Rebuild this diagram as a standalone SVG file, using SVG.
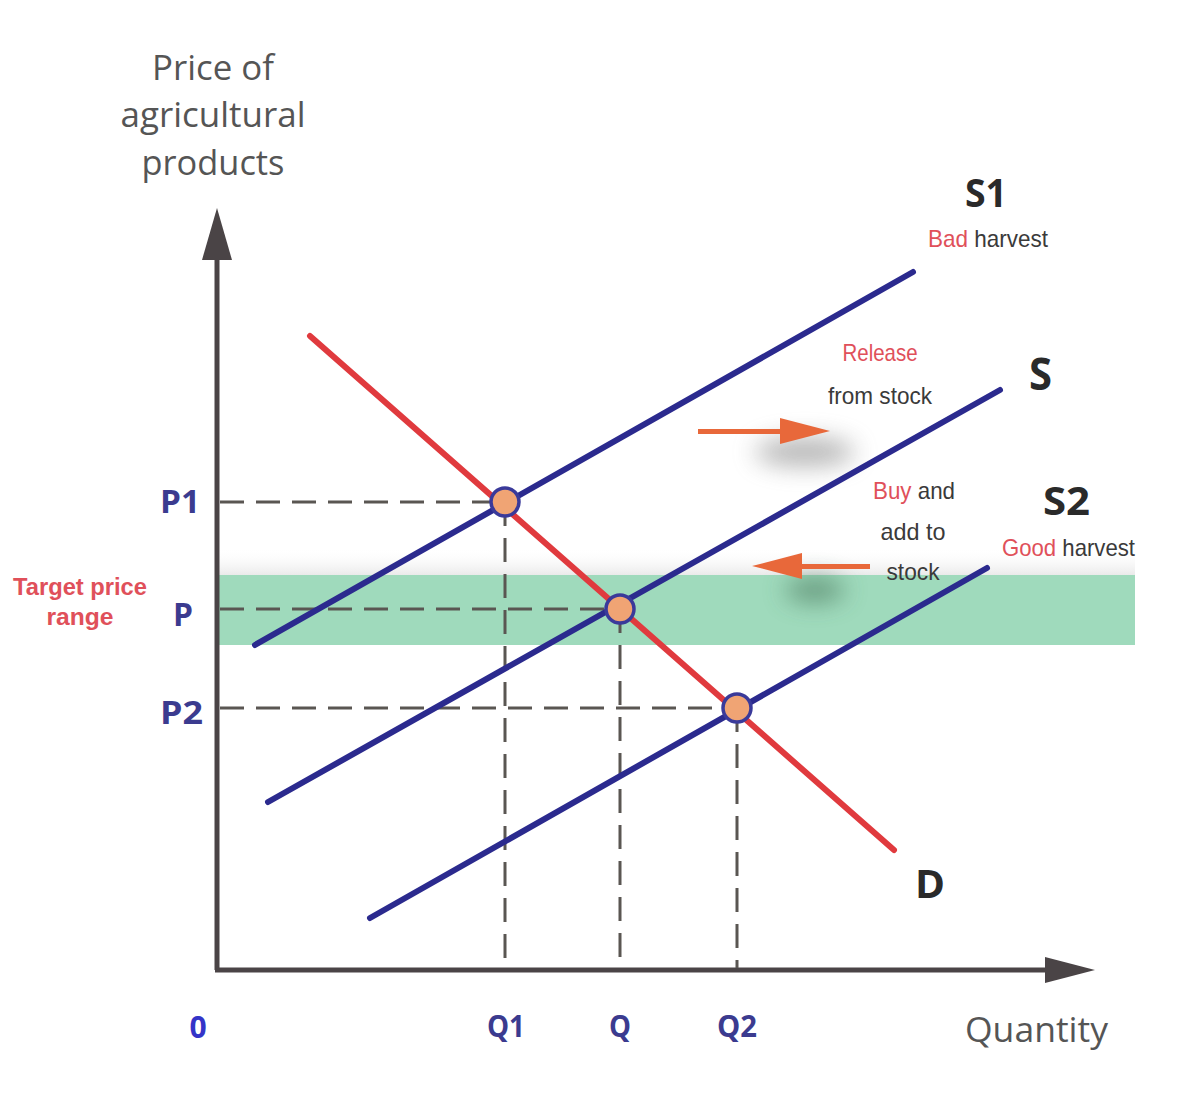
<svg xmlns="http://www.w3.org/2000/svg" width="1179" height="1116" viewBox="0 0 1179 1116">
<defs>
<style>
.axis{stroke:#4a4446;stroke-width:5;fill:none}
.dash{stroke:#5a5652;stroke-width:3;stroke-dasharray:24 12;fill:none}
.sup{stroke:#2b2a8e;stroke-width:6;stroke-linecap:round;fill:none}
.dem{stroke:#e03a3e;stroke-width:6;stroke-linecap:round;fill:none}
.pt{fill:#f0a474;stroke:#3a3a9a;stroke-width:3.5}
.lbl{font-family:"Open Sans","Liberation Sans",sans-serif;font-weight:bold;fill:#2a2a2a}
.ax{font-family:"Open Sans","Liberation Sans",sans-serif;font-weight:bold;fill:#3b3b8f}
.title{font-family:"Open Sans","Liberation Sans",sans-serif;fill:#555;font-size:34px}
.small{font-family:"Liberation Sans",sans-serif;font-size:24px;fill:#3a3a3a}
.red{fill:#e0505a}
.arr{fill:#e8683a}
</style>
<filter id="blur" filterUnits="userSpaceOnUse" x="600" y="350" width="400" height="350"><feGaussianBlur stdDeviation="12"/></filter>
<linearGradient id="fade" x1="0" y1="0" x2="0" y2="1">
<stop offset="0" stop-color="#ffffff" stop-opacity="0"/>
<stop offset="1" stop-color="#dcdcdc" stop-opacity="0.6"/>
</linearGradient>
</defs>
<rect width="1179" height="1116" fill="#ffffff"/>

<g id="band">
<rect x="217" y="548" width="918" height="27" fill="url(#fade)"/>
<rect x="217" y="575" width="918" height="70" fill="#9fdabc"/>
</g>

<g id="shadows">
<ellipse cx="805" cy="452" rx="50" ry="14" fill="#777" opacity="0.55" filter="url(#blur)"/>
<ellipse cx="815" cy="590" rx="30" ry="12" fill="#3e6a50" opacity="0.6" filter="url(#blur)"/>
</g>

<g id="axes">
<line class="axis" x1="217" y1="250" x2="217" y2="970"/>
<polygon points="217,208 202,260 232,260" fill="#4a4446"/>
<line class="axis" x1="215" y1="970" x2="1050" y2="970"/>
<polygon points="1095,970 1045,957 1045,983" fill="#4a4446"/>
</g>

<g id="connectors">
<line class="dash" x1="220" y1="502" x2="505" y2="502"/>
<line class="dash" x1="220" y1="609" x2="620" y2="609"/>
<line class="dash" x1="220" y1="708" x2="737" y2="708"/>
<line class="dash" x1="505" y1="502" x2="505" y2="968"/>
<line class="dash" x1="620" y1="609" x2="620" y2="968"/>
<line class="dash" x1="737" y1="708" x2="737" y2="968"/>
<line class="sup" x1="255" y1="645" x2="913" y2="272"/>
<line class="sup" x1="268" y1="802" x2="1000" y2="390"/>
<line class="sup" x1="370" y1="918" x2="987" y2="568"/>
<line class="dem" x1="310" y1="336" x2="894" y2="850"/>
<g id="arrow-right">
<rect x="698" y="429" width="90" height="5" class="arr"/>
<polygon class="arr" points="830,431 780,418 780,444"/>
</g>
<g id="arrow-left">
<rect x="795" y="564" width="75" height="5" class="arr"/>
<polygon class="arr" points="752,566 802,553 802,579"/>
</g>
</g>

<g id="equilibria">
<circle class="pt" cx="505" cy="502" r="14"/>
<circle class="pt" cx="620" cy="609" r="14"/>
<circle class="pt" cx="737" cy="708" r="14"/>
</g>

<g id="y-title">
<text class="title" x="213" y="80" text-anchor="middle" textLength="122" lengthAdjust="spacingAndGlyphs">Price of</text>
<text class="title" x="213" y="127" text-anchor="middle" textLength="185" lengthAdjust="spacingAndGlyphs">agricultural</text>
<text class="title" x="213" y="175" text-anchor="middle" textLength="143" lengthAdjust="spacingAndGlyphs">products</text>
</g>

<g id="S1-label">
<text class="lbl" x="965" y="207" font-size="40" textLength="42" lengthAdjust="spacingAndGlyphs">S1</text>
<text class="small" x="928" y="247" textLength="120" lengthAdjust="spacingAndGlyphs"><tspan class="red">Bad</tspan> harvest</text>
</g>
<g id="S-label">
<text class="lbl" x="1029" y="390" font-size="44" textLength="23" lengthAdjust="spacingAndGlyphs">S</text>
</g>
<g id="S2-label">
<text class="lbl" x="1043" y="515" font-size="40" textLength="47" lengthAdjust="spacingAndGlyphs">S2</text>
<text class="small" x="1002" y="556" textLength="133" lengthAdjust="spacingAndGlyphs"><tspan class="red">Good</tspan> harvest</text>
</g>
<g id="D-label">
<text class="lbl" x="915" y="898" font-size="40" textLength="30" lengthAdjust="spacingAndGlyphs">D</text>
</g>
<g id="release-label">
<text class="small red" x="880" y="361" text-anchor="middle" textLength="75" lengthAdjust="spacingAndGlyphs">Release</text>
<text class="small" x="880" y="404" text-anchor="middle" textLength="104" lengthAdjust="spacingAndGlyphs">from stock</text>
</g>
<g id="buy-label">
<text class="small" x="914" y="499" text-anchor="middle" textLength="82" lengthAdjust="spacingAndGlyphs"><tspan class="red">Buy</tspan> and</text>
<text class="small" x="913" y="540" text-anchor="middle" textLength="65" lengthAdjust="spacingAndGlyphs">add to</text>
<text class="small" x="913" y="580" text-anchor="middle" textLength="53" lengthAdjust="spacingAndGlyphs">stock</text>
</g>
<g id="target-label">
<text class="small red" x="80" y="595" text-anchor="middle" font-weight="bold" textLength="134" lengthAdjust="spacingAndGlyphs">Target price</text>
<text class="small red" x="80" y="625" text-anchor="middle" font-weight="bold" textLength="67" lengthAdjust="spacingAndGlyphs">range</text>
</g>

<g id="price-ticks">
<text class="ax" x="160" y="513" font-size="32" textLength="40" lengthAdjust="spacingAndGlyphs">P1</text>
<text class="ax" x="173" y="626" font-size="32" textLength="20" lengthAdjust="spacingAndGlyphs">P</text>
<text class="ax" x="160" y="724" font-size="32" textLength="43" lengthAdjust="spacingAndGlyphs">P2</text>
</g>
<g id="qty-ticks">
<text class="ax" x="198" y="1038" font-size="30" text-anchor="middle" style="fill:#3434c8">0</text>
<text class="ax" x="506" y="1037" font-size="30" text-anchor="middle" textLength="38" lengthAdjust="spacingAndGlyphs">Q1</text>
<text class="ax" x="620" y="1037" font-size="30" text-anchor="middle" textLength="22" lengthAdjust="spacingAndGlyphs">Q</text>
<text class="ax" x="737" y="1037" font-size="30" text-anchor="middle" textLength="40" lengthAdjust="spacingAndGlyphs">Q2</text>
</g>
<g id="x-title">
<text class="title" x="965" y="1042" textLength="143" lengthAdjust="spacingAndGlyphs">Quantity</text>
</g>
</svg>
